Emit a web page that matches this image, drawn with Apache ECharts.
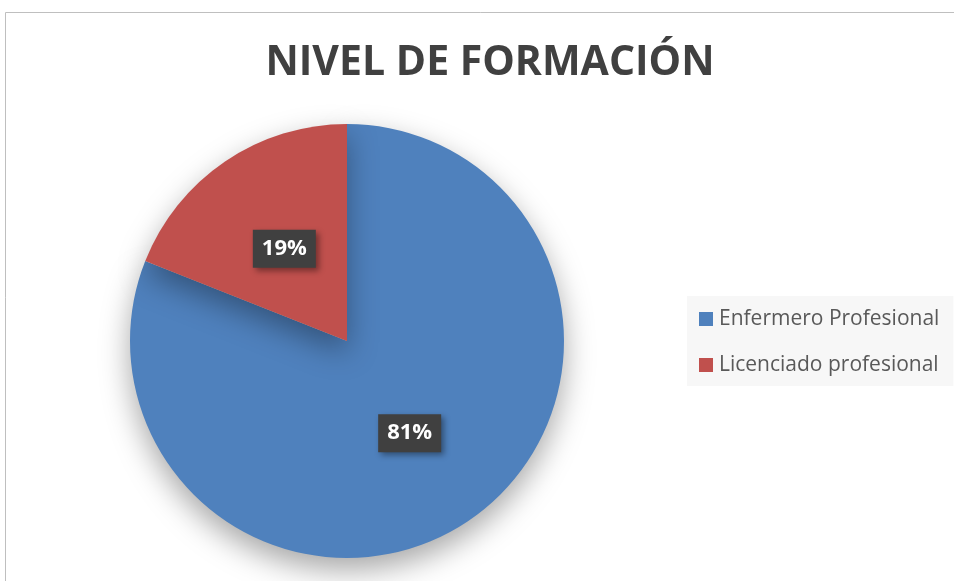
<!DOCTYPE html>
<html><head><meta charset="utf-8">
<script src="https://cdn.jsdelivr.net/npm/echarts@6/dist/echarts.min.js"></script>
<style>html,body{margin:0;padding:0;background:#fff}#c{width:954px;height:581px}</style>
</head><body><div id="c"></div>
<script>
const titleText = "NIVEL DE FORMACIÓN";
const categories = ["Enfermero Profesional", "Licenciado profesional"];
const values = [81, 19];
const colors = ["#4f81bd", "#c0504d"];

const chart = echarts.init(document.getElementById('c'), null, {renderer: 'canvas'});
chart.setOption({
  animation: false,
  backgroundColor: '#ffffff',
  graphic: [{
    type: 'rect', silent: true, z: -10,
    shape: {x: 5.5, y: 12.5, width: 1000, height: 700},
    style: {fill: '#ffffff', stroke: '#bfbfbf', lineWidth: 1}
  }],
  title: {
    text: titleText, left: 485, top: 38, textAlign: 'center',
    textStyle: {fontFamily: 'Open Sans', fontWeight: 'bold', fontSize: 41, color: '#404040'}
  },
  legend: {
    orient: 'vertical', left: 687, top: 296,
    backgroundColor: '#f7f7f7', padding: [12, 14, 10, 12],
    itemWidth: 14, itemHeight: 14, itemGap: 24, icon: 'rect',
    textStyle: {fontFamily: 'Open Sans', fontSize: 21, lineHeight: 22, color: '#595959', padding: [0, 0, 0, 1]},
    data: categories
  },
  series: [{
    type: 'pie', center: [347, 341], radius: 217, startAngle: 90, clockwise: true,
    data: categories.map((c, i) => ({name: c, value: values[i], itemStyle: {color: colors[i]}})),
    itemStyle: {shadowBlur: 30, shadowOffsetY: 12, shadowColor: 'rgba(0,0,0,0.35)'},
    label: {
      show: true, position: 'inside', formatter: '{d}%',
      fontFamily: 'Open Sans', fontWeight: 'bold', fontSize: 22, color: '#ffffff',
      backgroundColor: '#404040', padding: [9, 9, 7, 9],
      shadowBlur: 6, shadowOffsetX: 3, shadowOffsetY: 3, shadowColor: 'rgba(0,0,0,0.4)'
    },
    labelLine: {show: false},
    emphasis: {disabled: true}
  }]
});
</script></body></html>
